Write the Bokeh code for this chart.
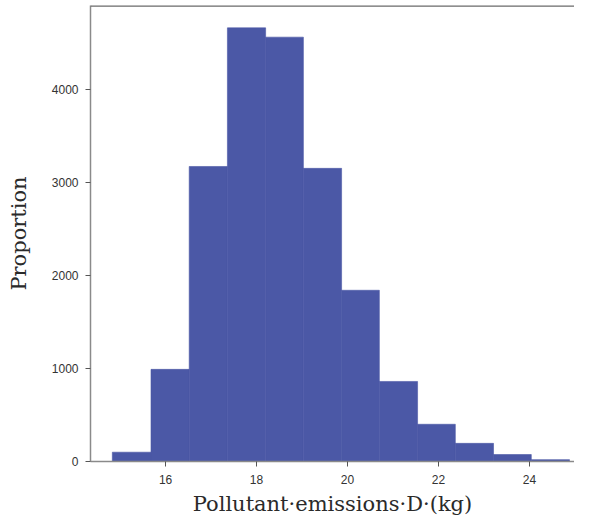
from bokeh.plotting import figure
from bokeh.models import Range1d, Span, FixedTicker
from bokeh.embed import file_html
from bokeh.resources import INLINE

# Histogram data
bin_edges = [14.83, 15.68, 16.52, 17.36, 18.20, 19.03, 19.87, 20.70, 21.54, 22.37, 23.21, 24.04, 24.88]
counts = [100, 990, 3170, 4660, 4560, 3150, 1840, 860, 400, 195, 75, 20]
x_ticks = [16, 18, 20, 22, 24]
y_ticks = [0, 1000, 2000, 3000, 4000]

left = bin_edges[:-1]
right = bin_edges[1:]

p = figure(width=574, height=518, output_backend="svg", toolbar_location=None,
           x_range=Range1d(14.35, 24.99), y_range=Range1d(0, 4900),
           min_border_left=90, min_border_right=0, min_border_top=5, min_border_bottom=57)

p.quad(left=left, right=right, bottom=0, top=counts,
       fill_color="#4b58a6", line_color="#4b58a6", line_width=0.6)

p.xgrid.visible = False
p.ygrid.visible = False
p.outline_line_color = None
p.background_fill_color = "white"
p.border_fill_color = "white"

for ax in (p.xaxis[0], p.yaxis[0]):
    ax.axis_line_color = "#8a8a8a"
    ax.axis_line_width = 1.5
    ax.major_tick_line_color = "#555555"
    ax.major_tick_line_width = 1
    ax.minor_tick_line_color = None
    ax.major_tick_in = 0
    ax.major_label_text_font = "Liberation Sans"
    ax.major_label_text_font_size = "12px"
    ax.major_label_text_color = "#333333"

p.xaxis.ticker = FixedTicker(ticks=x_ticks)
p.yaxis.ticker = FixedTicker(ticks=y_ticks)
p.xaxis.major_tick_out = 5
p.yaxis.major_tick_out = 5
p.xaxis.major_label_standoff = 8
p.yaxis.major_label_standoff = 7

p.yaxis.axis_label = "Proportion"
p.yaxis.axis_label_text_font = "DejaVu Serif"
p.yaxis.axis_label_text_font_style = "normal"
p.yaxis.axis_label_text_font_size = "21px"
p.yaxis.axis_label_text_color = "#2a2a2a"
p.yaxis.axis_label_standoff = 18

p.xaxis.axis_label = "Pollutant\u00b7emissions\u00b7D\u00b7(kg)"
p.xaxis.axis_label_text_font = "DejaVu Serif"
p.xaxis.axis_label_text_font_style = "normal"
p.xaxis.axis_label_text_font_size = "21px"
p.xaxis.axis_label_text_color = "#2a2a2a"
p.xaxis.axis_label_standoff = 5

top_line = Span(location=4900, dimension="width", line_color="#6a6a6a", line_width=2.5)
p.add_layout(top_line)

open("out.html", "w").write(file_html(p, INLINE))
